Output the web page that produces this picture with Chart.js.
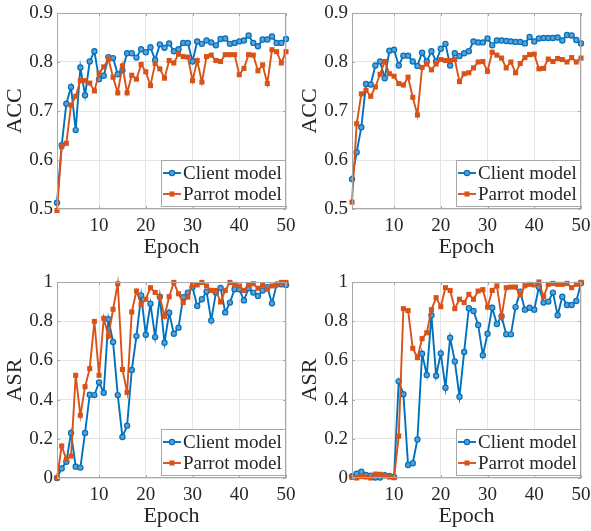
<!DOCTYPE html>
<html>
<head>
<meta charset="utf-8">
<script src="https://cdn.jsdelivr.net/npm/chart.js@4.4.0/dist/chart.umd.min.js"></script>
<style>
html,body{margin:0;padding:0;background:#fff;}
body{width:591px;height:531px;position:relative;overflow:hidden;}
.cell{position:absolute;width:296px;height:262px;}
</style>
</head>
<body>
<div class="cell" style="left:0;top:0"><canvas id="c1" width="296" height="262"></canvas></div>
<div class="cell" style="left:295px;top:0"><canvas id="c2" width="296" height="262"></canvas></div>
<div class="cell" style="left:0;top:269px"><canvas id="c3" width="296" height="262"></canvas></div>
<div class="cell" style="left:295px;top:269px"><canvas id="c4" width="296" height="262"></canvas></div>
<script>
// ---------- data ----------
const epochs = [1,2,3,4,5,6,7,8,9,10,11,12,13,14,15,16,17,18,19,20,21,22,23,24,25,26,27,28,29,30,31,32,33,34,35,36,37,38,39,40,41,42,43,44,45,46,47,48,49,50];
const epochTicks = [10,20,30,40,50];
const accTicks = [0.5,0.6,0.7,0.8,0.9];
const asrTicks = [0,0.2,0.4,0.6,0.8,1];
const seriesNames = ['Client model','Parrot model'];

const accClientA = [0.513,0.630,0.715,0.749,0.661,0.789,0.732,0.801,0.822,0.765,
  0.772,0.810,0.808,0.775,0.783,0.818,0.818,0.809,0.826,0.820,
  0.830,0.804,0.836,0.829,0.838,0.822,0.826,0.839,0.839,0.801,
  0.842,0.837,0.844,0.840,0.834,0.847,0.848,0.837,0.839,0.842,
  0.844,0.854,0.839,0.832,0.846,0.846,0.852,0.839,0.839,0.847];
const accParrotA = [0.497,0.627,0.634,0.712,0.730,0.762,0.762,0.757,0.741,0.777,
  0.790,0.806,0.769,0.737,0.792,0.737,0.773,0.765,0.795,0.780,
  0.752,0.797,0.786,0.767,0.803,0.798,0.816,0.811,0.810,0.762,
  0.803,0.759,0.811,0.814,0.803,0.801,0.815,0.815,0.815,0.774,
  0.787,0.815,0.814,0.782,0.794,0.756,0.825,0.821,0.798,0.821];
const accClientB = [0.561,0.616,0.667,0.755,0.754,0.793,0.801,0.767,0.823,0.825,
  0.793,0.813,0.813,0.801,0.792,0.819,0.801,0.822,0.801,0.827,
  0.837,0.793,0.818,0.812,0.818,0.822,0.842,0.840,0.840,0.848,
  0.834,0.844,0.844,0.843,0.842,0.841,0.841,0.838,0.851,0.842,
  0.848,0.849,0.849,0.849,0.850,0.844,0.855,0.854,0.845,0.838];
const accParrotB = [0.514,0.674,0.735,0.742,0.730,0.749,0.775,0.801,0.776,0.771,
  0.756,0.753,0.769,0.728,0.692,0.789,0.796,0.784,0.796,0.805,
  0.803,0.803,0.805,0.760,0.776,0.778,0.788,0.800,0.801,0.781,
  0.820,0.814,0.808,0.788,0.800,0.778,0.797,0.809,0.815,0.816,
  0.786,0.787,0.806,0.801,0.807,0.805,0.800,0.809,0.800,0.808];
const asrClientA = [0.000,0.049,0.083,0.230,0.058,0.053,0.230,0.425,0.423,0.488,
  0.435,0.810,0.694,0.423,0.209,0.267,0.551,0.724,0.932,0.731,
  0.889,0.719,0.925,0.690,0.843,0.736,0.767,0.923,0.946,0.974,
  0.878,0.912,0.951,0.804,0.946,0.970,0.845,0.895,0.963,0.963,
  0.906,0.968,0.946,0.929,0.957,0.974,0.891,0.988,0.988,0.985];
const asrParrotA = [0.000,0.163,0.095,0.112,0.524,0.320,0.466,0.558,0.799,0.524,
  0.815,0.724,0.861,0.991,0.554,0.437,0.847,0.954,0.886,0.912,
  0.971,0.947,0.925,0.825,0.925,0.998,0.940,0.895,0.923,0.985,
  0.985,0.998,0.980,0.957,0.957,0.898,0.957,0.998,0.988,0.980,
  0.957,0.985,0.991,0.968,0.985,0.963,0.980,0.985,0.998,0.998];
const asrClientB = [0.009,0.022,0.032,0.015,0.012,0.002,0.002,0.014,0.010,0.005,
  0.493,0.427,0.066,0.075,0.197,0.634,0.526,0.830,0.522,0.636,
  0.461,0.716,0.595,0.415,0.643,0.866,0.852,0.781,0.626,0.736,
  0.869,0.786,0.825,0.733,0.733,0.872,0.951,0.859,0.869,0.859,
  0.975,0.895,0.900,0.946,0.830,0.925,0.883,0.883,0.903,0.995];
const asrParrotB = [0.003,0.000,0.007,0.005,0.000,0.020,0.019,0.012,0.005,0.002,
  0.214,0.864,0.854,0.662,0.614,0.711,0.741,0.859,0.920,0.874,
  0.971,0.957,0.864,0.912,0.895,0.937,0.912,0.954,0.961,0.872,
  0.957,0.980,0.821,0.971,0.974,0.974,0.934,0.981,0.988,0.985,
  1.000,0.925,0.988,0.993,0.988,0.988,0.993,0.971,0.988,0.998];

// ---------- style ----------
const BLUE = '#0072BD', BLUE_FILL = '#5b9fd3', ORANGE = '#D95319';
const FONT = "'Liberation Serif','Times New Roman',serif";
const TEXT = '#262626', GRID = '#e4e4e4', FRAME = '#a8a8a8';

const framePlugin = {
  id: 'frame',
  afterDatasetsDraw(chart) {
    const ctx = chart.ctx, ca = chart.chartArea;
    const xs = chart.scales.x, ys = chart.scales.y;
    ctx.save();
    ctx.strokeStyle = FRAME;
    ctx.lineWidth = 1;
    ctx.strokeRect(ca.left + 0.5, ca.top + 0.5, ca.right - ca.left - 1, ca.bottom - ca.top - 1);
    ctx.beginPath();
    xs.ticks.forEach(t => {
      const px = Math.round(xs.getPixelForValue(t.value)) + 0.5;
      ctx.moveTo(px, ca.bottom); ctx.lineTo(px, ca.bottom - 3);
      ctx.moveTo(px, ca.top); ctx.lineTo(px, ca.top + 3);
    });
    ys.ticks.forEach(t => {
      const py = Math.round(ys.getPixelForValue(t.value)) + 0.5;
      ctx.moveTo(ca.left, py); ctx.lineTo(ca.left + 3, py);
      ctx.moveTo(ca.right, py); ctx.lineTo(ca.right - 3, py);
    });
    ctx.stroke();
    ctx.restore();
  },
  afterDraw(chart) {
    const ctx = chart.ctx, ca = chart.chartArea;
    const w = 124, h = 46;
    const x0 = Math.round(ca.right - 1 - w), y0 = Math.round(ca.bottom - 3 - h);
    ctx.save();
    ctx.fillStyle = '#ffffff';
    ctx.fillRect(x0, y0, w, h);
    ctx.strokeStyle = FRAME;
    ctx.lineWidth = 1;
    ctx.strokeRect(x0 + 0.5, y0 + 0.5, w, h);
    ctx.font = "19px " + FONT;
    ctx.textBaseline = 'middle';
    ctx.textAlign = 'left';
    chart.data.datasets.forEach((ds, i) => {
      const cy = y0 + 13 + i * 21;
      ctx.strokeStyle = ds.borderColor;
      ctx.lineWidth = ds.borderWidth;
      ctx.beginPath();
      ctx.moveTo(x0 + 2, cy); ctx.lineTo(x0 + 20, cy);
      ctx.stroke();
      ctx.fillStyle = ds.pointBackgroundColor;
      ctx.strokeStyle = ds.borderColor;
      ctx.lineWidth = ds.pointBorderWidth;
      Chart.helpers.drawPoint(ctx, {pointStyle: ds.pointStyle, radius: ds.pointRadius, borderWidth: ds.pointBorderWidth, rotation: 0}, x0 + 11, cy);
      ctx.fillStyle = TEXT;
      ctx.fillText(ds.label, x0 + 22, cy + 1);
    });
    ctx.restore();
  }
};

function makeChart(id, yTitle, yTicks, yMin, yMax, clientVals, parrotVals, fmt) {
  const ctx = document.getElementById(id);
  return new Chart(ctx, {
    type: 'line',
    data: {
      datasets: [
        {
          label: seriesNames[0],
          data: epochs.map((e, i) => ({x: e, y: clientVals[i]})),
          borderColor: BLUE, backgroundColor: BLUE_FILL,
          pointBackgroundColor: BLUE_FILL, pointBorderColor: BLUE,
          borderWidth: 1.9, pointStyle: 'circle', pointRadius: 2.6, pointBorderWidth: 1.2,
          tension: 0, order: 1, clip: 8
        },
        {
          label: seriesNames[1],
          data: epochs.map((e, i) => ({x: e, y: parrotVals[i]})),
          borderColor: ORANGE, backgroundColor: ORANGE,
          pointBackgroundColor: ORANGE, pointBorderColor: ORANGE,
          borderWidth: 1.9, pointStyle: 'rect', pointRadius: 3.6, pointBorderWidth: 0,
          tension: 0, order: 0, clip: 8
        }
      ]
    },
    options: {
      responsive: false,
      animation: false,
      events: [],
      layout: {padding: {left: 0, top: 13, right: 10, bottom: 0}},
      plugins: {legend: {display: false}, tooltip: {enabled: false}},
      scales: {
        x: {
          type: 'linear', min: 1, max: 50,
          afterBuildTicks: s => { s.ticks = epochTicks.map(v => ({value: v})); },
          afterFit: s => { s.height = 53; s.paddingLeft = 0; s.paddingRight = 0; },
          grid: {color: GRID, lineWidth: 1, drawTicks: false},
          border: {display: false},
          ticks: {padding: 6, color: TEXT, font: {family: FONT, size: 19}, maxRotation: 0, autoSkip: false},
          title: {display: true, text: 'Epoch', color: TEXT, font: {family: FONT, size: 22}, padding: {top: 0, bottom: 2}}
        },
        y: {
          type: 'linear', min: yMin, max: yMax,
          afterBuildTicks: s => { s.ticks = yTicks.map(v => ({value: v})); },
          afterFit: s => { s.width = 57; s.paddingTop = 0; s.paddingBottom = 0; },
          grid: {color: GRID, lineWidth: 1, drawTicks: false},
          border: {display: false},
          ticks: {padding: 4, color: TEXT, font: {family: FONT, size: 19}, callback: fmt, autoSkip: false},
          title: {display: true, text: yTitle, color: TEXT, font: {family: FONT, size: 22}, padding: {top: 2, bottom: 0}}
        }
      }
    },
    plugins: [framePlugin]
  });
}

const fmtAcc = v => Number(v).toFixed(1);
const fmtAsr = v => (v === 0 ? '0' : v === 1 ? '1' : Number(v).toFixed(1));

makeChart('c1', 'ACC', accTicks, 0.5, 0.9, accClientA, accParrotA, fmtAcc);
makeChart('c2', 'ACC', accTicks, 0.5, 0.9, accClientB, accParrotB, fmtAcc);
makeChart('c3', 'ASR', asrTicks, 0, 1, asrClientA, asrParrotA, fmtAsr);
makeChart('c4', 'ASR', asrTicks, 0, 1, asrClientB, asrParrotB, fmtAsr);
</script>
</body>
</html>
